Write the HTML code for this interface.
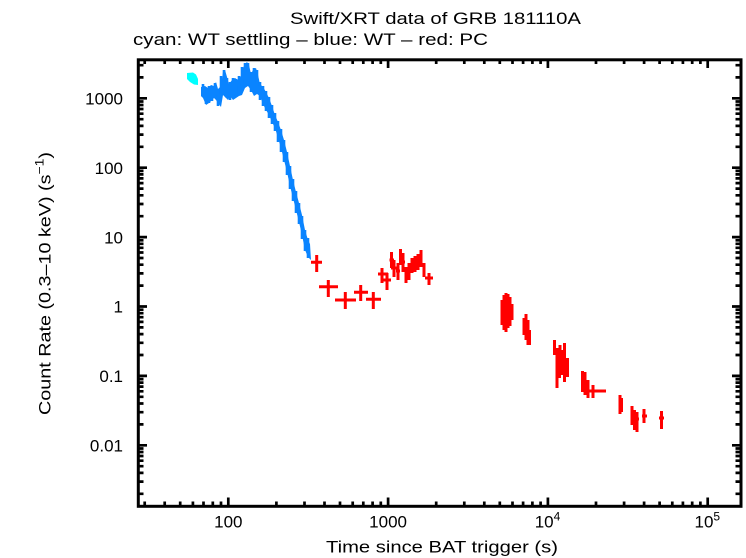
<!DOCTYPE html>
<html><head><meta charset="utf-8"><style>
html,body{margin:0;padding:0;background:#fff;}
svg{display:block;}
text{font-family:"Liberation Sans",Arial,Helvetica,sans-serif;fill:#000;}
</style></head><body>
<svg width="746" height="558" viewBox="0 0 746 558" xmlns="http://www.w3.org/2000/svg">
<rect x="0" y="0" width="746" height="558" fill="#fff"/>

<!-- titles -->
<text x="290" y="24" font-size="17" textLength="291" lengthAdjust="spacingAndGlyphs">Swift/XRT data of GRB 181110A</text>
<text x="133" y="45" font-size="17" textLength="355" lengthAdjust="spacingAndGlyphs">cyan: WT settling – blue: WT – red: PC</text>

<!-- data: cyan -->
<polygon fill="#00ffff" points="187,73 193,72.5 196,74.5 198,79 198,85 194,84.5 190,82 187,79"/>

<!-- data: blue WT -->
<polygon fill="#0a84ff" points="201,87 205,86 208,88 211,85 214,86 216,82 218,89 221,86 223,72 225,70 227,77 229,84 232,80 235,78 238,80 241,76 243,68 245,64 247,62 249,65 251,74 253,70 256,68 258,75 260,84 263,87 266,92 269,98 272,106 275,115 278,122 281,130 284,140 287,152 290,166 293,180 296,192 299,203 302,215 305,230 308,240 310,244 311,260 308,257 305,250 302,235 299,222 296,210 293,198 290,186 287,172 284,160 281,148 278,138 275,128 272,122 269,115 266,110 263,104 260,96 257,94 254,96 251,90 248,86 245,88 242,95 239,96 236,98 233,100 230,96 228,100 226,98 223,95 221,107 218,103 216,100 214,98 212,100 209,103 206,105 203,98 201,96"/>
<path fill="none" stroke="#0a84ff" stroke-width="2.6" d="
M203 84V97 M206 88V104 M209 86V103 M212 88V101 M215 83V97 M218 89V106 M221 76V95 M224 70V90 M227 78V98 M230 82V100 M233 78V96 M236 79V97 M239 76V94 M242 67V86 M245 63V84 M248 63V80 M251 72V92 M254 68V93 M257 70V94 M260 82V100 M263 86V106 M266 91V111 M269 97V118 M272 105V124 M275 113V131 M278 121V142 M281 129V152 M284 140V162 M287 152V175 M290 166V189 M293 179V201 M296 191V213 M299 203V224 M302 216V239 M305 230V251 M308 238V258"/>

<!-- data: red PC -->
<path fill="none" stroke="#ff0000" stroke-width="3" d="
M311 262.3H322 M316.7 255V272
M319 286.7H338 M328.3 280V297
M335 300H356 M345.3 292V309
M354 292.3H368 M360.7 285V301
M366 299.3H381 M373.3 292V309
M378 274H388 M382 268V283
M383 280H391 M387 273V290
M389.5 260H394 M391.5 252V268
M391 268H397 M394 260V277
M396 271H400 M398 263V280
M400.5 249V265
M401 262H405 M403 253V272
M406 267V283
M409 263V280
M412 258V273
M415 256V272
M418 254V270
M421 250V267
M424 263V277
M425 278H433 M429 273V285
M502 300V325 M504 295V330 M506 293V332 M508 294V328 M510 297V326 M512 304V320
M524 318V335 M526 314V340 M528 320V345 M529.5 330V345
M554.5 340V355 M557 348V388 M559.5 352V378 M562 350V375 M564.5 343V382 M567.5 358V377 M560 345V372
M582.5 371V392 M585 372V395 M588 380V398 M587 391H606 M593 385V398
M620 395V414 M621.5 398V412
M632 406V425 M634.5 410V430 M637 412V432 M631 419H639
M644 409V423 M642 416H647
M661.5 411V429 M659 418H664
"/>

<!-- frame -->
<rect x="138.3" y="59.8" width="602.7" height="446.5" fill="none" stroke="#000" stroke-width="3"/>

<!-- ticks -->
<path fill="none" stroke="#000" stroke-width="2.7" d="
M228.3 506V497.5 M388.1 506V497.5 M547.9 506V497.5 M707.7 506V497.5
M144.7 506V501.5 M164.7 506V501.5 M180.2 506V501.5 M192.9 506V501.5 M203.5 506V501.5 M212.8 506V501.5 M221 506V501.5
M276.4 506V501.5 M304.5 506V501.5 M324.5 506V501.5 M340 506V501.5 M352.7 506V501.5 M363.3 506V501.5 M372.6 506V501.5 M380.8 506V501.5
M436.2 506V501.5 M464.3 506V501.5 M484.3 506V501.5 M499.8 506V501.5 M512.5 506V501.5 M523.1 506V501.5 M532.4 506V501.5 M540.6 506V501.5
M596 506V501.5 M624.1 506V501.5 M644.1 506V501.5 M659.6 506V501.5 M672.3 506V501.5 M682.9 506V501.5 M692.2 506V501.5 M700.4 506V501.5
M228.3 60V68 M388.1 60V68 M547.9 60V68 M707.7 60V68
M144.7 60V64 M164.7 60V64 M180.2 60V64 M192.9 60V64 M203.5 60V64 M212.8 60V64 M221 60V64
M276.4 60V64 M304.5 60V64 M324.5 60V64 M340 60V64 M352.7 60V64 M363.3 60V64 M372.6 60V64 M380.8 60V64
M436.2 60V64 M464.3 60V64 M484.3 60V64 M499.8 60V64 M512.5 60V64 M523.1 60V64 M532.4 60V64 M540.6 60V64
M596 60V64 M624.1 60V64 M644.1 60V64 M659.6 60V64 M672.3 60V64 M682.9 60V64 M692.2 60V64 M700.4 60V64
M138 98.3H147 M138 167.7H147 M138 237.1H147 M138 306.5H147 M138 375.9H147 M138 445.3H147
M741 98.3H732 M741 167.7H732 M741 237.1H732 M741 306.5H732 M741 375.9H732 M741 445.3H732
M138 77.4H143.5 M138 65.2H143.5
M138 146.8H143.5 M138 134.6H143.5 M138 125.9H143.5 M138 119.2H143.5 M138 113.7H143.5 M138 109H143.5 M138 105H143.5 M138 101.5H143.5
M138 216.2H143.5 M138 204H143.5 M138 195.3H143.5 M138 188.6H143.5 M138 183.1H143.5 M138 178.4H143.5 M138 174.4H143.5 M138 170.9H143.5
M138 285.6H143.5 M138 273.4H143.5 M138 264.7H143.5 M138 258H143.5 M138 252.5H143.5 M138 247.8H143.5 M138 243.8H143.5 M138 240.3H143.5
M138 355H143.5 M138 342.8H143.5 M138 334.1H143.5 M138 327.4H143.5 M138 321.9H143.5 M138 317.2H143.5 M138 313.2H143.5 M138 309.7H143.5
M138 424.4H143.5 M138 412.2H143.5 M138 403.5H143.5 M138 396.8H143.5 M138 391.3H143.5 M138 386.6H143.5 M138 382.6H143.5 M138 379.1H143.5
M138 493.8H143.5 M138 481.6H143.5 M138 472.9H143.5 M138 466.2H143.5 M138 460.7H143.5 M138 456H143.5 M138 452H143.5 M138 448.5H143.5
M741 77.4H735.5 M741 65.2H735.5
M741 146.8H735.5 M741 134.6H735.5 M741 125.9H735.5 M741 119.2H735.5 M741 113.7H735.5 M741 109H735.5 M741 105H735.5 M741 101.5H735.5
M741 216.2H735.5 M741 204H735.5 M741 195.3H735.5 M741 188.6H735.5 M741 183.1H735.5 M741 178.4H735.5 M741 174.4H735.5 M741 170.9H735.5
M741 285.6H735.5 M741 273.4H735.5 M741 264.7H735.5 M741 258H735.5 M741 252.5H735.5 M741 247.8H735.5 M741 243.8H735.5 M741 240.3H735.5
M741 355H735.5 M741 342.8H735.5 M741 334.1H735.5 M741 327.4H735.5 M741 321.9H735.5 M741 317.2H735.5 M741 313.2H735.5 M741 309.7H735.5
M741 424.4H735.5 M741 412.2H735.5 M741 403.5H735.5 M741 396.8H735.5 M741 391.3H735.5 M741 386.6H735.5 M741 382.6H735.5 M741 379.1H735.5
M741 493.8H735.5 M741 481.6H735.5 M741 472.9H735.5 M741 466.2H735.5 M741 460.7H735.5 M741 456H735.5 M741 452H735.5 M741 448.5H735.5
"/>

<!-- y tick labels -->
<g font-size="17" text-anchor="end">
<text x="123" y="104.5">1000</text>
<text x="123" y="173.9">100</text>
<text x="123" y="243.3">10</text>
<text x="123" y="312.7">1</text>
<text x="123" y="382.1">0.1</text>
<text x="123" y="451.5">0.01</text>
</g>

<!-- x tick labels -->
<g font-size="17" text-anchor="middle">
<text x="228.3" y="527.5">100</text>
<text x="388.1" y="527.5">1000</text>
<text x="547.5" y="527.5">10<tspan font-size="12" dy="-7">4</tspan></text>
<text x="707.3" y="527.5">10<tspan font-size="12" dy="-7">5</tspan></text>
</g>

<!-- axis labels -->
<text x="326" y="552.5" font-size="17" textLength="232" lengthAdjust="spacingAndGlyphs">Time since BAT trigger (s)</text>
<text transform="translate(50.5,283.5) rotate(-90)" font-size="17" text-anchor="middle" textLength="263" lengthAdjust="spacingAndGlyphs">Count Rate (0.3–10 keV) (s<tspan font-size="12" dy="-7">−1</tspan><tspan dy="7">)</tspan></text>
</svg>
</body></html>
